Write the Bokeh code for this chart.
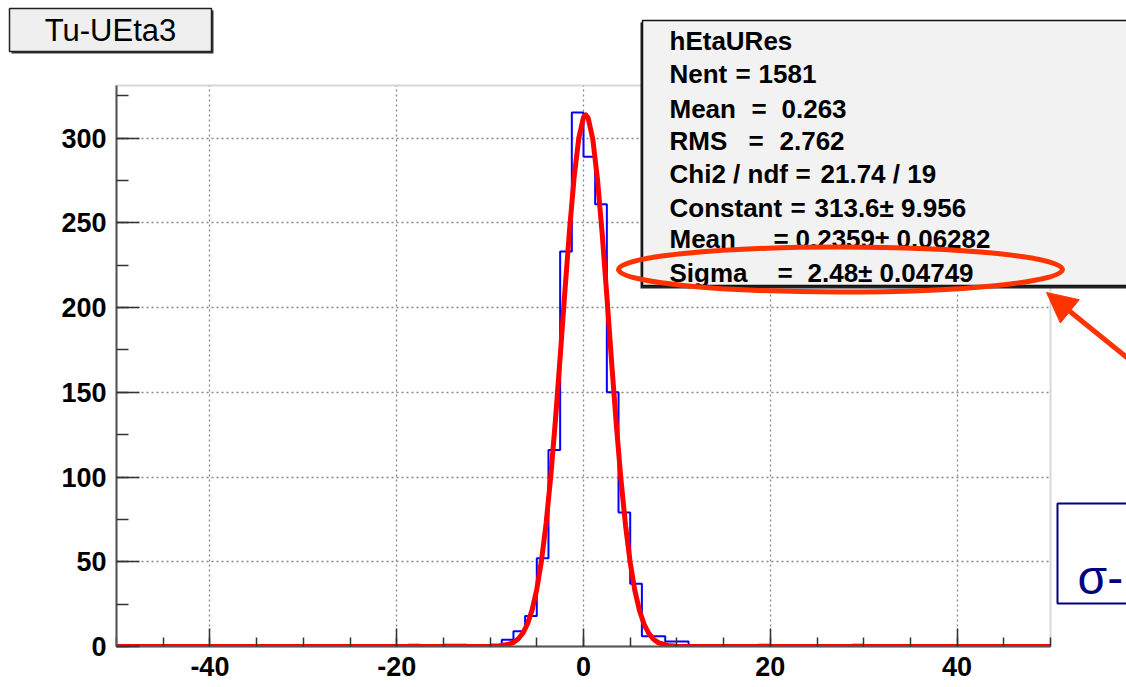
import numpy as np
from bokeh.plotting import figure
from bokeh.layouts import column
from bokeh.models import (BoxAnnotation, Label, Arrow, NormalHead,
                          SingleIntervalTicker, Range1d, PrintfTickFormatter)
from bokeh.embed import file_html
from bokeh.resources import INLINE

# ---------------- data ----------------
hist_title = "Tu-UEta3"
hist_name = "hEtaURes"
hist_lo, hist_hi, n_bins = -50.0, 50.0, 80
counts = [
    0, 0, 0, 0, 0, 0, 0, 0, 0, 0,
    0, 0, 0, 0, 0, 0, 0, 0, 0, 0,
    0, 0, 0, 0, 0, 1, 0, 0, 1, 1,
    0, 0, 1, 4, 9, 18, 52, 116, 233, 315,
    289, 261, 150, 79, 37, 6, 6, 3, 3, 0,
    0, 0, 0, 0, 0, 1, 0, 0, 0, 0,
    0, 0, 0, 1, 0, 0, 0, 0, 0, 0,
    0, 0, 0, 0, 0, 0, 0, 0, 0, 0,
]
# fitted gaussian curve
fit_x = [-50, -12, -10, -9, -8, -7.5, -7, -6.5, -6, -5.5, -5, -4.5, -4, -3.5, -3,
         -2.5, -2, -1.5, -1, -0.5, 0, 0.25, 0.5, 1, 1.5, 2, 2.5, 3, 3.5, 4,
         4.5, 5, 5.5, 6, 6.5, 7, 7.5, 8, 9, 10, 12, 50]
fit_y = [0, 0, 0.1, 0.3, 1.3, 2.4, 4.4, 7.8, 13.3, 21.6, 33.8, 50.6, 72.9, 100.8, 133.9,
         170.7, 208.9, 245.5, 277.0, 300.1, 312.2, 313.6, 311.8, 299.1, 275.4, 243.5, 206.7, 168.5, 131.9, 99.1,
         71.5, 49.5, 33.0, 21.1, 12.9, 7.6, 4.3, 2.3, 0.6, 0.1, 0, 0]
y_max = 331.0

stat_names = ["Nent", "Mean", "RMS", "Chi2 / ndf", "Constant", "Mean", "Sigma"]
stat_values = ["1581", "0.263", "2.762", "21.74 / 19", "313.6\u00b1 9.956",
               "0.2359\u00b1 0.06282", "2.48\u00b1 0.04749"]
sigma_note = "\u03c3-"

FONT = "Liberation Sans"
W, H = 1126, 687

# ---------------- main histogram figure ----------------
p = figure(width=W, height=H, output_backend="svg", toolbar_location=None,
           x_range=Range1d(hist_lo, hist_hi), y_range=Range1d(0, y_max),
           min_border_left=116, min_border_right=76, min_border_top=85, min_border_bottom=41,
           background_fill_color="white", border_fill_color="white",
           outline_line_color="#d8d8d8", outline_line_width=2)
p.frame_align = False

xt = SingleIntervalTicker(interval=20, num_minor_ticks=4)
yt = SingleIntervalTicker(interval=50, num_minor_ticks=2)
p.xaxis.ticker = xt
p.yaxis.ticker = yt
p.xgrid.ticker = xt
p.ygrid.ticker = yt
p.xaxis.formatter = PrintfTickFormatter(format="%d")
p.yaxis.formatter = PrintfTickFormatter(format="%d")
for g in (p.xgrid, p.ygrid):
    g.grid_line_color = "#888888"
    g.grid_line_dash = "2 3"
    g.grid_line_width = 1.3

for ax in (p.xaxis, p.yaxis):
    ax.axis_line_color = "#555555"
    ax.axis_line_width = 2
    ax.major_tick_line_color = "#333333"
    ax.minor_tick_line_color = "#333333"
    ax.major_tick_line_width = 1.5
    ax.minor_tick_line_width = 1.5
    ax.major_tick_out = 0
    ax.minor_tick_out = 0
    ax.major_label_text_font = FONT
    ax.major_label_text_font_style = "bold"
    ax.major_label_text_font_size = "27px"
    ax.major_label_text_color = "black"
p.xaxis.major_tick_in = 18
p.xaxis.minor_tick_in = 9
p.yaxis.major_tick_in = 23
p.yaxis.minor_tick_in = 12
p.xaxis.major_label_standoff = 10
p.yaxis.major_label_standoff = 10

edges = np.linspace(hist_lo, hist_hi, n_bins + 1)
step_y = list(counts) + [counts[-1]]
p.step(x=list(edges), y=step_y, mode="after", line_color="#0000ff", line_width=2)
p.line(fit_x, fit_y, line_color="#ff0000", line_width=5, line_join="round")

# ---------------- overlay figure for panes and slide marks ----------------
# its ranges are in page pixels: x to the right, y = H - (pixels from top)
o = figure(width=W, height=H, output_backend="svg", toolbar_location=None,
           x_range=Range1d(0, W), y_range=Range1d(0, H),
           x_axis_type=None, y_axis_type=None,
           min_border_left=0, min_border_right=0, min_border_top=0, min_border_bottom=0,
           background_fill_color=None, border_fill_color=None, outline_line_color=None)
o.frame_align = False
o.grid.visible = False
o.margin = (-H, 0, 0, 0)

def fy(ry):
    return float(H) - ry

def box(l, t, r, b, **kw):
    o.add_layout(BoxAnnotation(left=l, right=r, top=fy(t), bottom=fy(b), **kw))

def label(rx, ry, text, size, style="bold", color="black", align="left", baseline="middle"):
    o.add_layout(Label(x=rx, y=fy(ry), text=text, text_font=FONT, text_font_size=size,
                       text_font_style=style, text_color=color, text_align=align,
                       text_baseline=baseline))

# title pave
box(11, 10, 213, 53, fill_color="#333333", fill_alpha=1, line_alpha=0)
box(9, 8, 211, 51, fill_color="#efefef", fill_alpha=1, line_color="#222222",
    line_alpha=1, line_width=1.5)
label(110, 30, hist_title, "31px", style="normal", align="center")

# stats pave
box(640, 22, 1160, 288, fill_color="#222222", fill_alpha=1, line_alpha=0)
box(642, 20, 1160, 285, fill_color="#f2f2f2", fill_alpha=1, line_color="#111111",
    line_alpha=1, line_width=1.5)
label(669, 40, hist_name, "26px")
row_y = [73, 108, 140, 173, 207, 238, 272]
eq_x = [735, 751, 748, 795, 790, 773, 777]
val_x = [758, 781, 779, 820, 814, 795, 807]
for name, val, ry, ex, vx in zip(stat_names, stat_values, row_y, eq_x, val_x):
    label(669, ry, name, "26px")
    label(ex, ry, "=", "26px")
    label(vx, ry, val, "26px")

RED = "#ff3300"
# highlight ellipse, drawn over the stats pave
o.ellipse(x=[840], y=[fy(269)], width=[444], height=[45],
          fill_color=None, line_color=RED, line_width=5, level="overlay")

# arrow
o.add_layout(Arrow(x_start=1145, y_start=fy(372), x_end=1046, y_end=fy(292),
                   line_color=RED, line_width=5,
                   end=NormalHead(size=30, fill_color=RED, line_color=RED, line_width=1)))

# sigma box
box(1057, 503, 1200, 603, fill_color="white", fill_alpha=1, line_color="#000080",
    line_alpha=1, line_width=2)
label(1077, 577, sigma_note, "48px", style="normal", color="#000080", baseline="alphabetic")

root = column(p, o, spacing=0)
open("out.html", "w").write(file_html(root, INLINE))
